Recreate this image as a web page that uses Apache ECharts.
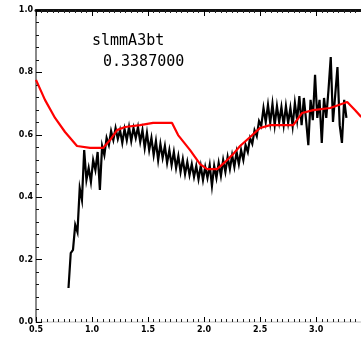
<!DOCTYPE html>
<html><head><meta charset="utf-8">
<script src="https://cdn.jsdelivr.net/npm/echarts@6/dist/echarts.min.js"></script>
<style>html,body{margin:0;padding:0;background:#fff}#c{width:361px;height:338px}</style>
</head><body><div id="c"></div>
<script>
const xTicks = ["0.5","1.0","1.5","2.0","2.5","3.0"];
const yTicks = ["0.0","0.2","0.4","0.6","0.8","1.0"];
const label1 = "slmmA3bt";
const label2 = "0.3387000";

const modelX = [0.5,0.58,0.67,0.759,0.866,0.982,1.098,1.161,1.223,1.295,1.429,1.545,1.714,1.768,1.875,1.964,2.027,2.116,2.188,2.259,2.321,2.411,2.5,2.589,2.795,2.875,2.973,3.125,3.277,3.348,3.402];
const modelY = [0.776,0.712,0.654,0.609,0.564,0.558,0.558,0.583,0.615,0.625,0.631,0.638,0.638,0.599,0.551,0.506,0.49,0.49,0.513,0.538,0.564,0.593,0.622,0.631,0.631,0.67,0.679,0.686,0.705,0.679,0.657];

const specX = [0.79,0.81,0.83,0.85,0.87,0.89,0.91,0.93,0.95,0.97,0.99,1.01,1.03,1.05,1.07,1.09,1.11,1.13,1.15,1.17,1.19,1.21,1.23,1.25,1.27,1.29,1.31,1.33,1.35,1.37,1.39,1.41,1.43,1.45,1.47,1.49,1.51,1.53,1.55,1.57,1.59,1.61,1.63,1.65,1.67,1.69,1.71,1.73,1.75,1.77,1.79,1.81,1.83,1.85,1.87,1.89,1.91,1.93,1.95,1.97,1.99,2.01,2.03,2.05,2.07,2.09,2.11,2.13,2.15,2.17,2.19,2.21,2.23,2.25,2.27,2.29,2.31,2.33,2.35,2.37,2.39,2.41,2.43,2.45,2.47,2.49,2.51,2.53,2.55,2.57,2.59,2.61,2.63,2.65,2.67,2.69,2.71,2.73,2.75,2.77,2.79,2.81,2.83,2.85,2.87,2.89,2.91,2.93,2.95,2.97,2.99,3.01,3.03,3.05,3.07,3.09,3.11,3.13,3.15,3.17,3.19,3.21,3.23,3.25,3.27];
const specY = [0.109,0.221,0.231,0.311,0.288,0.429,0.391,0.551,0.455,0.494,0.449,0.519,0.487,0.545,0.423,0.564,0.535,0.59,0.567,0.612,0.583,0.622,0.587,0.615,0.574,0.619,0.583,0.625,0.58,0.622,0.59,0.625,0.577,0.615,0.558,0.606,0.551,0.59,0.535,0.58,0.519,0.571,0.526,0.564,0.51,0.551,0.503,0.545,0.494,0.532,0.481,0.522,0.474,0.513,0.471,0.506,0.465,0.5,0.458,0.5,0.455,0.497,0.462,0.503,0.436,0.5,0.462,0.51,0.468,0.519,0.481,0.529,0.49,0.535,0.497,0.545,0.506,0.551,0.519,0.567,0.545,0.59,0.571,0.615,0.596,0.644,0.628,0.686,0.641,0.696,0.638,0.699,0.631,0.692,0.641,0.689,0.631,0.692,0.638,0.686,0.628,0.702,0.647,0.724,0.631,0.718,0.647,0.567,0.712,0.647,0.792,0.654,0.712,0.574,0.718,0.654,0.744,0.849,0.641,0.728,0.817,0.631,0.574,0.712,0.654];

const zip = (a,b) => a.map((v,i)=>[v,b[i]]);
const chart = echarts.init(document.getElementById('c'), null, {renderer:'canvas'});
const fmtX = v => { const i = Math.round((v-0.5)/0.5); return (Math.abs(v-0.5-i*0.5)<1e-6 && xTicks[i]) ? xTicks[i] : ''; };
const fmtY = v => { const i = Math.round(v/0.2); return (Math.abs(v-i*0.2)<1e-6 && yTicks[i]) ? yTicks[i] : ''; };
chart.setOption({
  animation:false,
  backgroundColor:'#fff',
  grid:{left:36, right:0, top:10, bottom:16},
  xAxis:[{
    type:'value', min:0.5, max:3.4, interval:0.5, position:'bottom',
    axisLine:{show:true, onZero:false, lineStyle:{color:'#dddddd', width:2}},
    axisTick:{show:true, inside:true, length:5, lineStyle:{color:'#000', width:1}},
    minorTick:{show:true, splitNumber:10, length:3, lineStyle:{color:'#222', width:1}},
    splitLine:{show:false}, minorSplitLine:{show:false},
    axisLabel:{formatter:fmtX, fontSize:8, color:'#000', fontWeight:'bold', margin:4, fontFamily:'DejaVu Sans', showMaxLabel:false}
  },{
    type:'value', min:0.5, max:3.4, interval:0.5, position:'top',
    axisLine:{show:true, onZero:false, lineStyle:{color:'#111', width:3}},
    axisTick:{show:true, inside:true, length:6, lineStyle:{color:'#000', width:1}},
    minorTick:{show:true, splitNumber:10, length:3, lineStyle:{color:'#222', width:1}},
    splitLine:{show:false}, axisLabel:{show:false}
  }],
  yAxis:[{
    type:'value', min:0, max:1, interval:0.2,
    axisLine:{show:true, onZero:false, lineStyle:{color:'#888', width:2}},
    axisTick:{show:true, inside:true, length:6, lineStyle:{color:'#000', width:1}},
    minorTick:{show:true, splitNumber:5, length:3, lineStyle:{color:'#111', width:1}},
    splitLine:{show:false}, minorSplitLine:{show:false},
    axisLabel:{formatter:fmtY, fontSize:8, color:'#000', fontWeight:'bold', margin:3, fontFamily:'DejaVu Sans'}
  }],
  graphic:[
    {type:'text', left:92, top:34, style:{text:label1, font:'15px "DejaVu Sans Mono"', fill:'#000'}},
    {type:'text', left:103, top:55, style:{text:label2, font:'15px "DejaVu Sans Mono"', fill:'#000'}}
  ],
  series:[
    {type:'line', xAxisIndex:0, data:zip(specX,specY), showSymbol:false, symbol:'none', lineStyle:{color:'#000', width:2.2, join:'miter'}, z:2},
    {type:'line', xAxisIndex:0, data:zip(modelX,modelY), showSymbol:false, symbol:'none', lineStyle:{color:'#ff0000', width:2.2}, z:3}
  ]
});
</script></body></html>
